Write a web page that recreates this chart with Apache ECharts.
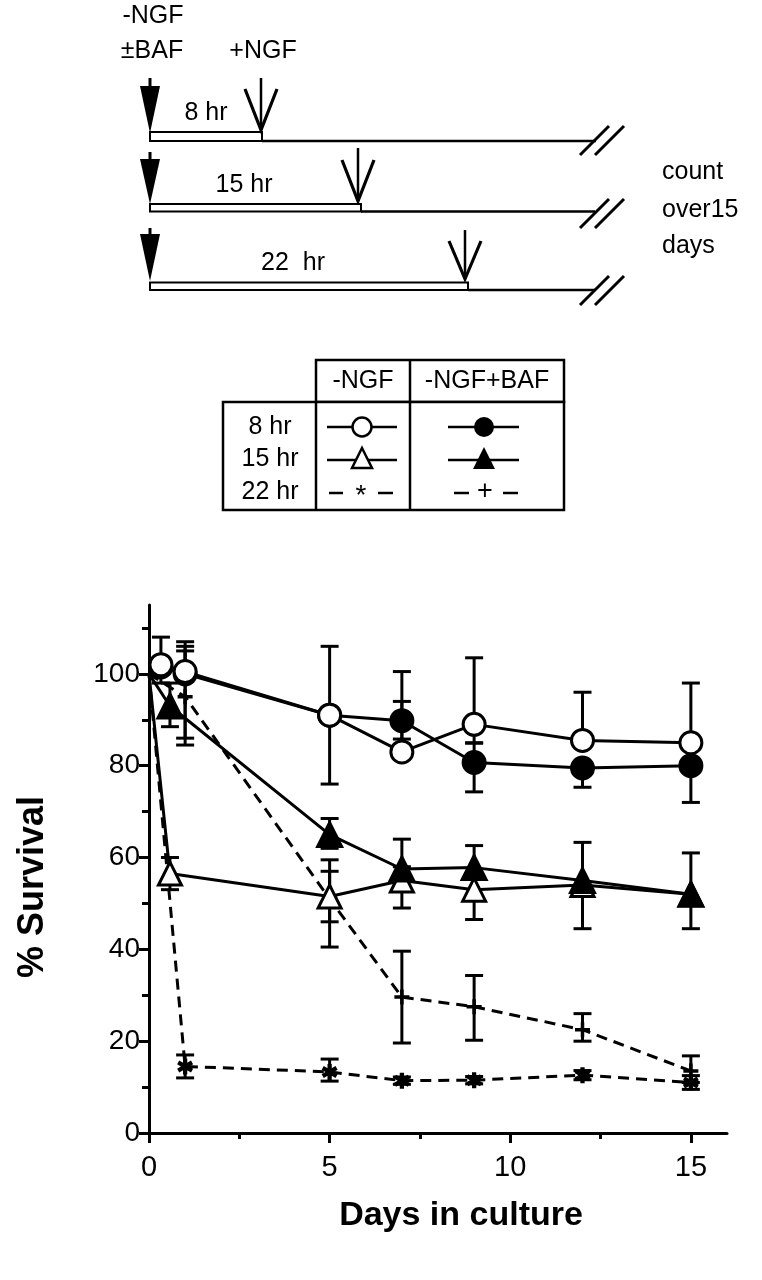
<!DOCTYPE html>
<html>
<head>
<meta charset="utf-8">
<script src="https://cdn.jsdelivr.net/npm/echarts@6/dist/echarts.min.js"></script>
<style>
html,body{margin:0;padding:0;background:#fff;}
#c{width:762px;height:1280px;}
</style>
</head>
<body>
<div id="c"></div>
<script>
// ---- data ----
const xMajorTicks = [0, 5, 10, 15];
const xMinorTicks = [2.5, 7.5, 12.5];
const yMajorTicks = [0, 20, 40, 60, 80, 100];
const yMinorTicks = [10, 30, 50, 70, 90, 110];

// -NGF 8 hr (open circle)
const ngf8X  = [0, 0.33, 1, 5, 7, 9, 12, 15];
const ngf8Y  = [100, 102, 100.5, 91, 83, 89, 85.5, 85];
const ngf8Hi = [0, 6, 6.5, 15, 11, 14.5, 10.5, 13];
const ngf8Lo = [0, 4, 16, 15, 0, 4, 0, 0];
// -NGF+BAF 8 hr (filled circle)
const baf8X  = [0, 0.33, 1, 5, 7, 9, 12, 15];
const baf8Y  = [100, 101.5, 100, 91, 89.8, 80.7, 79.5, 80];
const baf8Hi = [0, 0, 5, 0, 10.7, 4.2, 0, 0];
const baf8Lo = [0, 0, 0, 0, 4, 6.4, 4.2, 8];
// -NGF 15 hr (open triangle)
const ngf15X  = [0, 0.58, 5, 7, 9, 12, 15];
const ngf15Y  = [100, 56.5, 51.5, 55, 53, 54, 52];
const ngf15Hi = [0, 3.5, 8, 3, 0, 0, 0];
const ngf15Lo = [0, 3.5, 11, 6, 6.5, 9.5, 7.5];
// -NGF+BAF 15 hr (filled triangle)
const baf15X  = [0, 0.58, 5, 7, 9, 12, 15];
const baf15Y  = [100, 93, 65, 57.5, 57.8, 55, 52];
const baf15Hi = [0, 5, 3.5, 6.5, 4.8, 8.3, 9];
const baf15Lo = [0, 4.5, 3, 0, 0, 0, 0];
// -NGF 22 hr (asterisk)
const ngf22X  = [0, 1, 5, 7, 9, 12, 15];
const ngf22Y  = [100, 14.5, 13.3, 11.4, 11.5, 12.6, 11];
const ngf22Hi = [0, 2.5, 2.8, 0.8, 0.8, 1, 1.5];
const ngf22Lo = [0, 2.5, 2, 0.8, 0.8, 1, 1.5];
// -NGF+BAF 22 hr (plus)
const baf22X  = [0, 1, 5, 7, 9, 12, 15];
const baf22Y  = [100, 95, 51, 29.6, 27.5, 22.5, 13.5];
const baf22Hi = [0, 11, 6, 10, 6.8, 3.5, 3.3];
const baf22Lo = [0, 9, 5, 10, 7.3, 2.5, 2.5];

// ---- styling ----
const FONT = 'Liberation Sans, Arial, Helvetica, sans-serif';
const LW = 3;
const DASH = [11, 7];
const AST = 'path://M-1.6,-6H1.6V6H-1.6Z M-6,-1.7L-4.4,-4.5L6,1.7L4.4,4.5Z M-4.4,4.5L-6,1.7L4.4,-4.5L6,-1.7Z';
const PLUS = 'path://M-1.4,-6H1.4V-1.4H6V1.4H1.4V6H-1.4V1.4H-6V-1.4H-1.4Z';

function lineSeries(name, xs, ys, symbol, size, filled, dashed) {
  return {
    name: name, type: 'line', z: 3,
    data: xs.map((x, i) => x === 0 ? {value: [x, ys[i]], symbol: 'none'} : [x, ys[i]]),
    symbol: symbol, symbolSize: size, showSymbol: true,
    itemStyle: {color: filled ? '#000' : '#fff', borderColor: '#000', borderWidth: (symbol.indexOf('path') === 0) ? 0 : LW},
    lineStyle: {color: '#000', width: LW, type: dashed ? DASH : 'solid'},
    emphasis: {disabled: true}, animation: false
  };
}
function errSeries(xs, ys, lo, hi) {
  return {
    type: 'custom', z: 2, silent: true,
    data: xs.map((x, i) => [x, ys[i], lo[i], hi[i]]),
    encode: {x: 0, y: 1},
    renderItem: function (params, api) {
      const x = api.value(0), y = api.value(1), l = api.value(2), h = api.value(3);
      const c = api.coord([x, y]);
      const kids = [];
      const cap = 9;
      const st = {stroke: '#000', lineWidth: LW};
      if (h > 0) {
        const p = api.coord([x, y + h]);
        kids.push({type: 'line', shape: {x1: c[0], y1: c[1], x2: p[0], y2: p[1]}, style: st});
        kids.push({type: 'line', shape: {x1: p[0] - cap, y1: p[1], x2: p[0] + cap, y2: p[1]}, style: st});
      }
      if (l > 0) {
        const p = api.coord([x, y - l]);
        kids.push({type: 'line', shape: {x1: c[0], y1: c[1], x2: p[0], y2: p[1]}, style: st});
        kids.push({type: 'line', shape: {x1: p[0] - cap, y1: p[1], x2: p[0] + cap, y2: p[1]}, style: st});
      }
      return {type: 'group', children: kids};
    }
  };
}

// ---- schematic & legend table (graphic) ----
const G = [];
const TF = 25;
const txt = (s, x, y, size, align) => G.push({type: 'text', x: x, y: y,
  style: {text: s, fill: '#000', font: size + 'px ' + FONT, textAlign: align || 'center', textVerticalAlign: 'middle'}});
const ln = (x1, y1, x2, y2, w) => G.push({type: 'line', shape: {x1, y1, x2, y2}, style: {stroke: '#000', lineWidth: w || LW}});
const rect = (x, y, w, h, lw) => G.push({type: 'rect', shape: {x, y, width: w, height: h}, style: {fill: '#fff', stroke: '#000', lineWidth: lw || 2}});
function filledArrow(x, top, headTop, tip) {
  ln(x, top, x, headTop + 4, 3);
  G.push({type: 'polygon', shape: {points: [[x - 10, headTop], [x + 10, headTop], [x, tip]]}, style: {fill: '#000'}});
}
function openArrow(x, top, armY, tip, hw) {
  ln(x, top, x, tip, 2.5);
  G.push({type: 'polyline', shape: {points: [[x - hw, armY], [x, tip], [x + hw, armY]]}, style: {stroke: '#000', lineWidth: 3.2, fill: null}});
}
function brk(yb) {
  ln(580, yb, 609, yb - 29, 3);
  ln(595, yb, 624, yb - 29, 3);
}
txt('-NGF', 153, 16, TF);
txt('±BAF', 152, 51, TF);
txt('+NGF', 263, 51, TF);
// row 1
filledArrow(150, 78, 86, 133);
rect(150, 132, 112, 9);
ln(262, 141, 596, 141, 2.5);
txt('8 hr', 206, 113, TF);
openArrow(261, 78, 89, 130, 16);
brk(155);
// row 2
filledArrow(150, 152, 159, 204);
rect(150, 204, 211, 7.5);
ln(361, 211.5, 595, 211.5, 2.5);
txt('15 hr', 244, 185, TF);
openArrow(358, 148, 160, 201, 16);
brk(228);
// row 3
filledArrow(150, 228, 234, 281);
rect(150, 282.5, 318, 7.5);
ln(468, 290, 595, 290, 2.5);
txt('22  hr', 293, 263, TF);
openArrow(465, 230, 241, 279, 16);
brk(305);
txt('count', 662, 172, TF, 'left');
txt('over15', 662, 210, TF, 'left');
txt('days', 662, 246, TF, 'left');

// legend table
rect(316, 360, 248, 42, 2.5);
rect(223, 402, 341, 108, 2.5);
ln(410, 360, 410, 510, 2.5);
ln(316, 402, 316, 510, 2.5);
txt('-NGF', 363, 381, TF);
txt('-NGF+BAF', 487, 381, TF);
txt('8 hr', 270, 427, TF);
txt('15 hr', 270, 459, TF);
txt('22 hr', 270, 492, TF);
// legend symbols
ln(327, 427, 397, 427, 2.5);
G.push({type: 'circle', shape: {cx: 362, cy: 427, r: 9.5}, style: {fill: '#fff', stroke: '#000', lineWidth: 2.5}});
ln(448, 427, 519, 427, 2.5);
G.push({type: 'circle', shape: {cx: 484, cy: 427, r: 10}, style: {fill: '#000'}});
ln(327, 460, 397, 460, 2.5);
G.push({type: 'polygon', shape: {points: [[362, 448], [372, 468], [352, 468]]}, style: {fill: '#fff', stroke: '#000', lineWidth: 2.5}});
ln(448, 460, 519, 460, 2.5);
G.push({type: 'polygon', shape: {points: [[484, 447], [495, 469], [473, 469]]}, style: {fill: '#000'}});
ln(329, 493, 343, 493, 2.5); ln(378, 493, 393, 493, 2.5);
txt('*', 361, 496, 28);
ln(454, 493, 469, 493, 2.5); ln(503, 493, 518, 493, 2.5);
txt('+', 485, 492, 27);

const option = {
  animation: false,
  backgroundColor: '#fff',
  grid: {left: 149, right: 35, top: 605, bottom: 147},
  xAxis: [{
    type: 'value', min: 0, max: 16, gridIndex: 0,
    name: 'Days in culture', nameLocation: 'middle', nameGap: 66,
    nameTextStyle: {fontFamily: FONT, fontSize: 34, fontWeight: 'bold', color: '#000', padding: [0, 0, 0, 46]},
    axisLine: {onZero: false, lineStyle: {color: '#000', width: LW}},
    axisTick: {customValues: xMajorTicks, length: 10, lineStyle: {color: '#000', width: LW}},
    axisLabel: {customValues: xMajorTicks, fontFamily: FONT, fontSize: 29, color: '#000', margin: 20},
    splitLine: {show: false}
  }, {
    type: 'value', min: 0, max: 16, gridIndex: 0, position: 'bottom',
    axisLine: {show: false},
    axisTick: {customValues: xMinorTicks, length: 6, lineStyle: {color: '#000', width: LW}},
    axisLabel: {show: false}, splitLine: {show: false}
  }],
  yAxis: [{
    type: 'value', min: 0, max: 115, gridIndex: 0,
    name: '% Survival', nameLocation: 'middle', nameGap: 98,
    nameTextStyle: {fontFamily: FONT, fontSize: 36, fontWeight: 'bold', color: '#000', padding: [0, 36, 0, 0]},
    axisLine: {onZero: false, lineStyle: {color: '#000', width: LW}},
    axisTick: {customValues: yMajorTicks, length: 10, lineStyle: {color: '#000', width: LW}},
    axisLabel: {customValues: yMajorTicks, fontFamily: FONT, fontSize: 28, color: '#000', margin: 9},
    splitLine: {show: false}
  }, {
    type: 'value', min: 0, max: 115, gridIndex: 0, position: 'left',
    axisLine: {show: false},
    axisTick: {customValues: yMinorTicks, length: 7, lineStyle: {color: '#000', width: LW}},
    axisLabel: {show: false}, splitLine: {show: false}
  }],
  series: [
    errSeries(ngf22X, ngf22Y, ngf22Lo, ngf22Hi),
    errSeries(baf22X, baf22Y, baf22Lo, baf22Hi),
    errSeries(ngf15X, ngf15Y, ngf15Lo, ngf15Hi),
    errSeries(baf15X, baf15Y, baf15Lo, baf15Hi),
    errSeries(baf8X, baf8Y, baf8Lo, baf8Hi),
    errSeries(ngf8X, ngf8Y, ngf8Lo, ngf8Hi),
    lineSeries('-NGF 22 hr', ngf22X, ngf22Y, AST, 16, true, true),
    lineSeries('-NGF+BAF 22 hr', baf22X, baf22Y, PLUS, 15, true, true),
    lineSeries('-NGF 15 hr', ngf15X, ngf15Y, 'triangle', 23, false, false),
    lineSeries('-NGF+BAF 15 hr', baf15X, baf15Y, 'triangle', 24, true, false),
    lineSeries('-NGF+BAF 8 hr', baf8X, baf8Y, 'circle', 22, true, false),
    lineSeries('-NGF 8 hr', ngf8X, ngf8Y, 'circle', 22, false, false)
  ],
  graphic: {elements: G}
};
const chart = echarts.init(document.getElementById('c'), null, {renderer: 'canvas'});
chart.setOption(option);
</script>
</body>
</html>
